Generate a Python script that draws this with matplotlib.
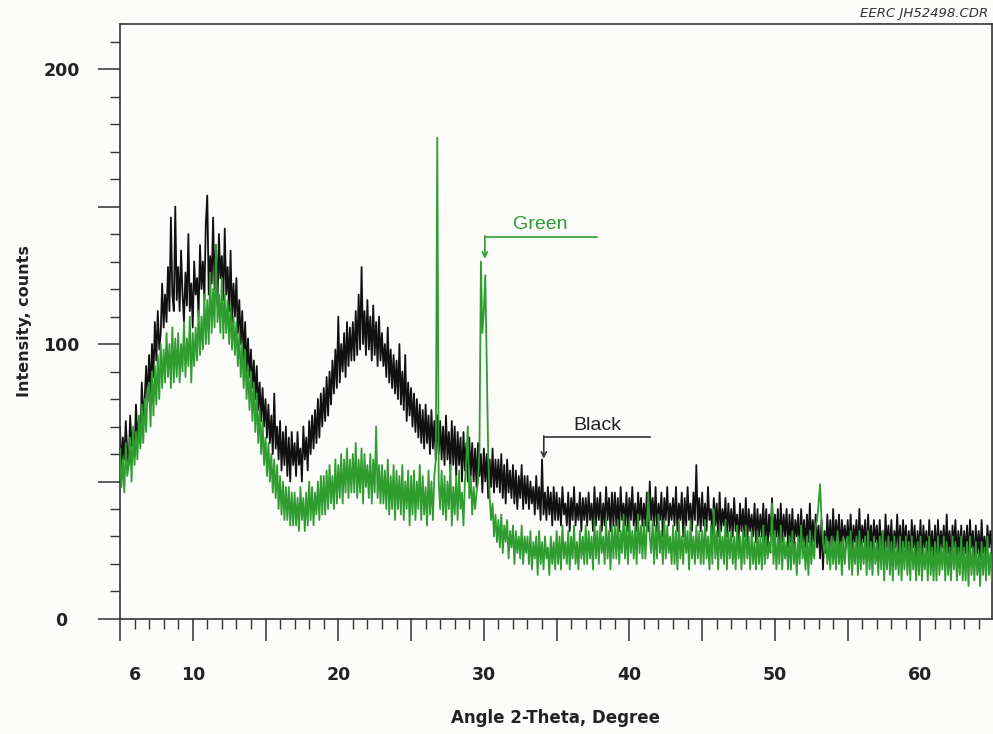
import numpy as np
import matplotlib
matplotlib.use("Agg")
import matplotlib.pyplot as plt
from matplotlib.ticker import FixedLocator, FuncFormatter

# scan grid (degrees 2-theta)
scan_start = 5.0
scan_step = 0.1

# intensity, one value per 0.1 deg step (20 per row = 2 deg)
black = [
    70, 55, 66, 58, 72, 61, 56, 74, 63, 68, 59, 78, 66, 72, 64, 86, 74, 80, 92, 79,
    96, 82, 100, 88, 108, 94, 112, 98, 104, 122, 106, 118, 108, 128, 112, 146, 118, 112, 150, 116,
    128, 112, 134, 118, 108, 126, 114, 140, 112, 122, 106, 130, 118, 124, 110, 136, 120, 130, 116, 144,
    154, 118, 132, 122, 146, 120, 136, 114, 140, 124, 132, 116, 142, 118, 128, 112, 134, 108, 122, 110,
    124, 104, 116, 100, 112, 94, 108, 90, 102, 88, 98, 84, 94, 80, 92, 76, 86, 72, 84, 70,
    80, 66, 78, 64, 74, 60, 82, 62, 70, 58, 72, 54, 68, 56, 70, 52, 66, 50, 68, 56,
    64, 52, 68, 56, 62, 50, 70, 58, 66, 54, 72, 60, 74, 62, 76, 64, 80, 66, 82, 70,
    84, 72, 88, 74, 90, 78, 94, 82, 98, 84, 110, 86, 100, 90, 104, 88, 108, 92, 106, 94,
    108, 94, 112, 96, 118, 98, 128, 100, 112, 96, 116, 98, 110, 94, 114, 96, 108, 92, 110, 94,
    104, 92, 100, 88, 106, 86, 98, 84, 96, 82, 94, 80, 100, 78, 90, 76, 96, 72, 86, 74,
    84, 70, 82, 68, 80, 66, 78, 64, 76, 62, 78, 64, 74, 60, 76, 62, 72, 58, 74, 60,
    72, 58, 70, 56, 74, 58, 68, 54, 72, 56, 70, 52, 68, 56, 66, 50, 68, 54, 64, 50,
    66, 52, 64, 50, 62, 48, 64, 52, 60, 46, 62, 50, 60, 44, 58, 48, 62, 46, 58, 48,
    58, 46, 60, 44, 56, 42, 58, 46, 54, 44, 56, 42, 54, 40, 52, 44, 56, 40, 52, 42,
    52, 40, 50, 42, 48, 38, 52, 40, 48, 36, 58, 38, 46, 36, 48, 38, 46, 34, 48, 36,
    46, 36, 44, 34, 48, 38, 42, 34, 46, 32, 44, 36, 48, 34, 42, 36, 46, 32, 44, 36,
    44, 34, 46, 36, 42, 32, 48, 34, 44, 36, 46, 32, 42, 34, 48, 36, 44, 32, 46, 34,
    46, 34, 44, 32, 48, 36, 42, 34, 46, 32, 44, 36, 48, 34, 42, 32, 46, 36, 44, 34,
    42, 34, 46, 32, 50, 36, 44, 34, 48, 32, 42, 36, 46, 30, 44, 36, 48, 34, 42, 36,
    44, 34, 48, 32, 42, 36, 46, 30, 44, 34, 48, 36, 42, 32, 46, 36, 56, 34, 44, 32,
    46, 34, 42, 32, 48, 36, 40, 30, 44, 34, 42, 30, 46, 32, 40, 34, 44, 30, 42, 32,
    40, 30, 44, 32, 38, 28, 42, 32, 40, 30, 44, 28, 40, 32, 38, 30, 42, 28, 40, 30,
    38, 30, 42, 28, 40, 26, 38, 30, 44, 28, 38, 30, 40, 26, 42, 28, 38, 30, 40, 26,
    38, 28, 40, 26, 36, 30, 38, 24, 40, 28, 36, 26, 38, 28, 42, 26, 36, 28, 38, 26,
    34, 22, 36, 18, 32, 24, 38, 26, 36, 24, 40, 26, 36, 28, 38, 24, 36, 28, 34, 26,
    36, 26, 38, 24, 34, 28, 36, 24, 40, 26, 34, 28, 36, 22, 38, 26, 34, 24, 36, 28,
    34, 24, 36, 26, 32, 22, 38, 26, 34, 24, 36, 22, 32, 26, 38, 24, 34, 22, 36, 26,
    34, 24, 32, 22, 36, 26, 34, 22, 32, 24, 36, 22, 34, 26, 32, 22, 36, 24, 32, 22,
    34, 22, 36, 24, 32, 26, 34, 22, 38, 24, 32, 22, 34, 26, 36, 22, 32, 24, 34, 22,
    32, 24, 34, 22, 36, 26, 32, 20, 34, 24, 32, 22, 36, 24, 30, 22, 34, 26, 32, 24,
    28,
]

green = [
    62, 48, 58, 46, 64, 52, 56, 66, 50, 70, 56, 68, 58, 74, 62, 78, 64, 80, 68, 84,
    86, 70, 90, 74, 92, 78, 96, 80, 100, 84, 98, 86, 104, 88, 100, 84, 106, 86, 102, 88,
    104, 86, 100, 90, 108, 88, 102, 92, 110, 86, 104, 92, 106, 94, 112, 96, 110, 98, 118, 100,
    116, 100, 126, 104, 120, 106, 136, 108, 118, 104, 124, 102, 118, 104, 116, 100, 114, 98, 110, 96,
    108, 92, 104, 88, 100, 84, 98, 80, 92, 76, 90, 72, 86, 68, 82, 64, 76, 60, 72, 56,
    66, 52, 64, 50, 60, 46, 58, 44, 56, 40, 52, 38, 50, 36, 48, 36, 48, 34, 46, 34,
    46, 34, 44, 32, 48, 36, 44, 32, 46, 34, 50, 36, 48, 34, 46, 38, 50, 36, 52, 38,
    52, 38, 54, 40, 56, 42, 52, 40, 58, 42, 56, 44, 60, 42, 58, 46, 62, 44, 58, 46,
    60, 46, 64, 44, 58, 46, 62, 42, 60, 48, 56, 44, 60, 42, 58, 46, 70, 44, 56, 42,
    56, 42, 54, 40, 58, 38, 52, 40, 56, 36, 54, 40, 52, 38, 56, 36, 50, 40, 54, 34,
    52, 38, 54, 36, 50, 40, 56, 36, 52, 38, 48, 34, 54, 38, 50, 36, 52, 58, 175, 50,
    40, 54, 38, 52, 36, 50, 40, 56, 34, 48, 38, 52, 36, 54, 40, 46, 34, 50, 58, 70,
    44, 52, 38, 48, 40, 46, 50, 62, 130, 104, 112, 125, 92, 60, 44, 36, 42, 30, 38, 28,
    36, 26, 38, 24, 34, 28, 36, 22, 32, 26, 34, 20, 32, 24, 30, 22, 34, 20, 30, 24,
    30, 20, 32, 18, 28, 22, 30, 16, 32, 20, 28, 18, 30, 22, 26, 16, 30, 20, 28, 18,
    32, 20, 30, 18, 34, 22, 28, 20, 32, 18, 30, 22, 34, 20, 28, 18, 32, 22, 30, 20,
    34, 20, 32, 22, 30, 18, 36, 22, 32, 20, 34, 24, 30, 20, 36, 22, 32, 18, 34, 22,
    34, 22, 36, 20, 32, 24, 38, 22, 34, 20, 36, 24, 32, 22, 34, 20, 38, 24, 34, 22,
    36, 22, 34, 46, 30, 24, 36, 20, 34, 22, 38, 24, 32, 20, 36, 22, 34, 24, 30, 20,
    34, 20, 32, 18, 36, 22, 30, 20, 34, 24, 32, 18, 36, 22, 30, 20, 34, 22, 32, 20,
    32, 20, 36, 22, 30, 18, 34, 20, 40, 22, 32, 18, 34, 22, 30, 20, 36, 18, 32, 22,
    32, 20, 30, 18, 34, 22, 30, 18, 32, 20, 34, 22, 30, 18, 32, 20, 28, 18, 32, 20,
    30, 18, 34, 20, 30, 22, 28, 24, 42, 20, 32, 18, 30, 20, 34, 18, 30, 22, 28, 18,
    30, 18, 32, 20, 28, 16, 30, 20, 34, 22, 28, 18, 30, 16, 32, 20, 28, 22, 34, 36,
    42, 49, 36, 28, 24, 30, 20, 28, 18, 30, 20, 28, 18, 32, 20, 28, 16, 30, 20, 28,
    30, 18, 32, 16, 28, 20, 30, 16, 32, 18, 28, 20, 30, 16, 32, 18, 28, 16, 30, 20,
    28, 16, 30, 18, 32, 14, 28, 18, 30, 16, 28, 14, 30, 18, 26, 16, 30, 14, 28, 18,
    30, 16, 28, 14, 30, 18, 26, 14, 28, 16, 30, 14, 26, 18, 28, 14, 30, 16, 26, 14,
    28, 14, 30, 16, 26, 18, 30, 14, 28, 16, 26, 14, 30, 18, 28, 14, 26, 16, 30, 14,
    26, 14, 28, 12, 30, 16, 26, 14, 28, 16, 24, 12, 28, 16, 26, 14, 30, 16, 24, 14,
    22,
]

two_theta_black = scan_start + scan_step * np.arange(len(black))
two_theta_green = scan_start + scan_step * np.arange(len(green))

x_major = [5, 10, 15, 20, 25, 30, 35, 40, 45, 50, 55, 60]
x_labels = {6: "6", 10: "10", 20: "20", 30: "30", 40: "40", 50: "50", 60: "60"}
y_major = [0, 50, 100, 150, 200]
y_labels = {0: "0", 100: "100", 200: "200"}

BLACK = "#111111"
GREEN = "#2f9c2f"
AXIS = "#333333"

fig = plt.figure(figsize=(9.93, 7.34), dpi=100)
fig.patch.set_facecolor("#fcfcfb")
ax = fig.add_axes([0.1208, 0.1567, 0.878, 0.8106])
ax.set_facecolor("#fcfcfb")

ax.plot(two_theta_black, black, color=BLACK, lw=1.3, zorder=2)
ax.plot(two_theta_green, green, color=GREEN, lw=1.3, zorder=3)

ax.set_xlim(5, 64.9)
ax.set_ylim(0, 216.4)

for s in ax.spines.values():
    s.set_color(AXIS)
    s.set_linewidth(1.2)

# x ticks: long every 5, short every 1, labels 6 / 10 / 20 ...
ax.xaxis.set_major_locator(FixedLocator(x_major))
ax.xaxis.set_major_formatter(FuncFormatter(lambda v, p: x_labels.get(int(round(v)), "")))
ax.xaxis.set_minor_locator(FixedLocator([v for v in range(5, 65) if v % 5 != 0]))
ax.xaxis.set_minor_formatter(FuncFormatter(lambda v, p: x_labels.get(int(round(v)), "")))
ax.tick_params(axis="x", which="major", direction="out", length=16, width=1.1,
               color=AXIS, pad=18, labelsize=12.5)
ax.tick_params(axis="x", which="minor", direction="out", length=7.5, width=1.0,
               color=AXIS, pad=26.5, labelsize=12.5)

# y ticks: long every 50, short every 10
ax.yaxis.set_major_locator(FixedLocator(y_major))
ax.yaxis.set_major_formatter(FuncFormatter(lambda v, p: y_labels.get(int(round(v)), "")))
ax.yaxis.set_minor_locator(FixedLocator([v for v in range(10, 220, 10) if v % 50 != 0]))
ax.tick_params(axis="y", which="major", direction="out", length=16, width=1.1,
               color=AXIS, pad=26, labelsize=12.5)
ax.tick_params(axis="y", which="minor", direction="out", length=7.5, width=1.0, color=AXIS)

for lab in ax.get_xticklabels(which="both") + ax.get_yticklabels():
    lab.set_fontweight("bold")
    lab.set_color("#222222")
for lab in ax.get_yticklabels():
    lab.set_ha("center")

ax.set_xlabel("Angle 2-Theta, Degree", fontsize=12, fontweight="bold", color="#222222", va="center")
ax.xaxis.set_label_coords(0.499, -0.166)
ax.set_ylabel("Intensity, counts", fontsize=11.5, fontweight="bold", color="#222222", va="center")
ax.yaxis.set_label_coords(-0.110, 0.5)

# peak markers
ax.plot([30.07, 37.76], [138.9, 138.9], color=GREEN, lw=1.2, zorder=4)
ax.annotate("", xy=(30.07, 131.0), xytext=(30.07, 139.3),
            arrowprops=dict(arrowstyle="->", color=GREEN, lw=1.2, shrinkA=0, shrinkB=0,
                            mutation_scale=9), zorder=4)
ax.text(33.85, 143.3, "Green", color=GREEN, fontsize=14, family="Liberation Sans",
        ha="center", va="center")

ax.plot([34.12, 41.4], [66.2, 66.2], color="#333333", lw=1.2, zorder=4)
ax.annotate("", xy=(34.12, 58.3), xytext=(34.12, 66.6),
            arrowprops=dict(arrowstyle="->", color="#333333", lw=1.2, shrinkA=0, shrinkB=0,
                            mutation_scale=9), zorder=4)
ax.text(37.78, 70.4, "Black", color="#222222", fontsize=14, family="Liberation Sans",
        ha="center", va="center")

fig.text(988 / 993, 1 - 14 / 734, "EERC JH52498.CDR", fontsize=9.5, style="italic",
         color="#333333", ha="right", va="center")

fig.savefig("out.png", dpi=100, facecolor=fig.get_facecolor())
